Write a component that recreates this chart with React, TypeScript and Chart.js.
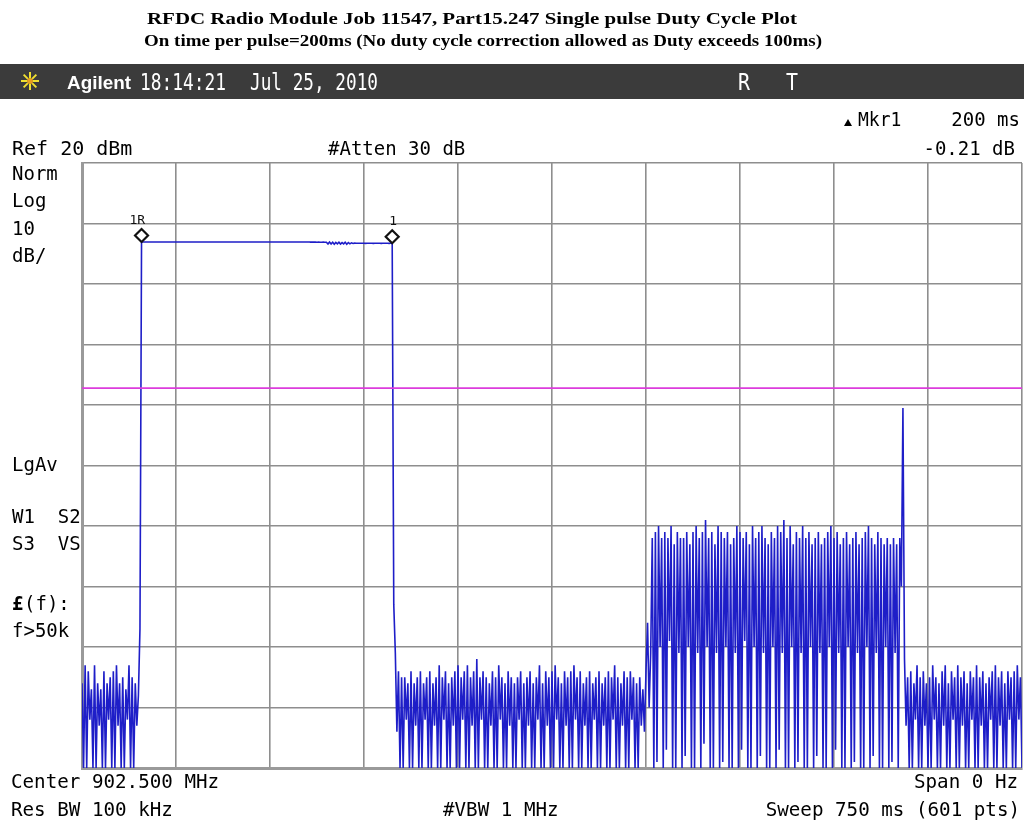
import React, { useEffect, useRef } from "react";
import { Chart, registerables } from "chart.js";

Chart.register(...registerables);

// ---- instrument settings ----
const sweepMs = 750;
const sweepPoints = 601;
const refLevelDbm = 20;
const dbPerDiv = 10;
const xDivMs = 75;
const displayLineDbm = -17.2;

// ---- trace (dBm), in sweep order ----
const preNoise = [
  -66, -80, -63, -80, -64, -72, -67, -80, -63, -80,
  -66, -73, -67, -80, -64, -80, -66, -72, -65, -80,
  -64, -80, -63, -73, -66, -80, -65, -80, -67, -72,
  -63, -80, -65, -80, -66, -73, -68, -57,
];
const pulseTop = [
  6.94, 6.95, 6.94, 6.94, 6.93, 6.94, 6.95, 6.94, 6.94, 6.93,
  6.94, 6.94, 6.95, 6.94, 6.93, 6.94, 6.94, 6.95, 6.94, 6.94,
  6.93, 6.94, 6.94, 6.95, 6.94, 6.94, 6.93, 6.94, 6.94, 6.95,
  6.94, 6.94, 6.93, 6.94, 6.95, 6.94, 6.94, 6.93, 6.94, 6.94,
  6.95, 6.94, 6.94, 6.93, 6.94, 6.94, 6.95, 6.94, 6.93, 6.94,
  6.94, 6.94, 6.95, 6.94, 6.93, 6.94, 6.94, 6.94, 6.95, 6.94,
  6.93, 6.94, 6.94, 6.95, 6.94, 6.94, 6.93, 6.94, 6.94, 6.94,
  6.95, 6.94, 6.93, 6.94, 6.94, 6.95, 6.94, 6.94, 6.93, 6.94,
  6.94, 6.95, 6.94, 6.94, 6.93, 6.94, 6.94, 6.95, 6.94, 6.93,
  6.94, 6.94, 6.95, 6.94, 6.94, 6.93, 6.94, 6.94, 6.95, 6.94,
  6.93, 6.94, 6.94, 6.94, 6.95, 6.94, 6.93, 6.94, 6.92, 6.93,
  6.92, 6.93, 6.91, 6.92, 6.90, 6.91, 6.92, 6.90, 6.89, 6.60,
  6.95, 6.62, 6.90, 6.58, 6.88, 6.65, 6.92, 6.60, 6.85, 6.63,
  6.90, 6.58, 6.86, 6.64, 6.80, 6.70, 6.75, 6.73, 6.74, 6.73,
  6.73, 6.74, 6.73, 6.72, 6.73, 6.74, 6.73, 6.73, 6.72, 6.73,
  6.74, 6.73, 6.73, 6.72, 6.73, 6.73, 6.74, 6.73, 6.72, 6.73,
  6.73,
];
const fallEdge = [-53, -61];
const midNoise = [
  -74, -64, -80, -65, -80, -65, -72, -66, -80, -64,
  -80, -66, -73, -65, -80, -64, -80, -66, -72, -65,
  -80, -64, -80, -66, -73, -65, -80, -63, -80, -65,
  -72, -64, -80, -66, -80, -65, -73, -64, -80, -63,
  -80, -65, -72, -64, -80, -63, -80, -65, -73, -64,
  -80, -62, -80, -65, -72, -64, -80, -65, -80, -66,
  -73, -64, -80, -65, -80, -63, -72, -65, -80, -66,
  -80, -64, -73, -65, -80, -66, -80, -65, -72, -64,
  -80, -66, -80, -65, -73, -64, -80, -66, -80, -65,
  -72, -63, -80, -66, -80, -64, -73, -65, -80, -64,
  -80, -63, -72, -65, -80, -66, -80, -64, -73, -65,
  -80, -64, -80, -63, -72, -65, -80, -64, -80, -66,
  -73, -65, -80, -64, -80, -66, -72, -65, -80, -64,
  -80, -66, -73, -65, -80, -64, -80, -65, -72, -63,
  -80, -65, -80, -66, -73, -64, -80, -65, -80, -64,
  -72, -65, -80, -66, -80, -65, -73, -67, -74,
];
const burstNoise = [
  -64, -56, -70, -61, -42, -80, -41, -79, -40, -60,
  -42, -80, -41, -77, -42, -59, -40, -80, -43, -80,
  -41, -61, -42, -80, -42, -78, -41, -60, -43, -80,
  -41, -80, -40, -61, -42, -80, -41, -76, -39, -60,
  -42, -80, -41, -80, -43, -61, -40, -80, -41, -79,
  -42, -60, -41, -80, -43, -80, -42, -61, -40, -80,
  -41, -77, -42, -59, -41, -80, -43, -80, -40, -60,
  -42, -80, -41, -78, -40, -61, -42, -80, -43, -80,
  -41, -60, -42, -80, -40, -77, -41, -61, -39, -80,
  -42, -80, -40, -60, -43, -80, -41, -79, -42, -61,
  -40, -80, -42, -80, -41, -60, -43, -80, -42, -78,
  -41, -61, -43, -80, -42, -80, -41, -60, -40, -80,
  -42, -77, -41, -61, -43, -80, -42, -80, -41, -60,
  -43, -80, -42, -79, -41, -61, -43, -80, -42, -80,
  -41, -60, -40, -80, -42, -78, -43, -61, -41, -80,
  -42, -80, -43, -60, -42, -80, -43, -79, -42, -61,
  -43, -80, -42, -50,
];
const spikePeak = [-20.5];
const postNoise = [
  -62, -73, -65, -80, -64, -80, -66, -72, -63, -80,
  -65, -80, -64, -73, -66, -80, -65, -80, -63, -72,
  -65, -80, -66, -80, -64, -73, -63, -80, -66, -80,
  -64, -72, -65, -80, -63, -80, -65, -73, -64, -80,
  -66, -80, -64, -72, -65, -80, -63, -80, -65, -73,
  -64, -80, -66, -80, -65, -72, -64, -80, -63, -80,
  -65, -73, -64, -80, -66, -80, -64, -72, -65, -80,
  -64, -80, -63, -72, -65, -80,
];

// ---- markers ----
const markerIndex = [38, 198];
const markerLabels = ["1R", "1"];

// ---- annotation texts ----
const titleLines = [
  "RFDC Radio Module Job 11547, Part15.247 Single pulse Duty Cycle Plot",
  "On time per pulse=200ms (No duty cycle correction allowed as Duty exceeds 100ms)",
];
const headerBrand = "Agilent";
const headerTime = "18:14:21";
const headerDate = "Jul 25, 2010";
const headerFlags = ["R", "T"];
const mkrLabel = "Mkr1";
const mkrDeltaTime = "200 ms";
const mkrDeltaLevel = "-0.21 dB";
const refText = "Ref 20 dBm";
const attenText = "#Atten 30 dB";
const leftLabels = ["Norm", "Log", "10", "dB/"];
const leftLabels2 = ["LgAv"];
const leftLabels3 = ["W1  S2", "S3  VS"];
const leftLabels4 = ["(f):", "f>50k"];
const bottomRow1 = ["Center 902.500 MHz", "Span 0 Hz"];
const bottomRow2 = ["Res BW 100 kHz", "#VBW 1 MHz", "Sweep 750 ms (601 pts)"];

const MONO = '"DejaVu Sans Mono", "Liberation Mono", monospace';

function txt(
  ctx: CanvasRenderingContext2D,
  s: string,
  x: number,
  y: number,
  font: string,
  color: string,
  align: "left" | "right" | "center" = "left",
  sx = 1
) {
  ctx.save();
  ctx.font = font;
  ctx.fillStyle = color;
  ctx.textBaseline = "alphabetic";
  ctx.textAlign = "left";
  const w = ctx.measureText(s).width * sx;
  const left = align === "left" ? x : align === "right" ? x - w : x - w / 2;
  ctx.translate(left, y);
  ctx.scale(sx, 1);
  ctx.fillText(s, 0, 0);
  ctx.restore();
}

function txtFit(
  ctx: CanvasRenderingContext2D,
  s: string,
  x0: number,
  x1: number,
  y: number,
  font: string,
  color: string
) {
  ctx.save();
  ctx.font = font;
  const w = ctx.measureText(s).width;
  ctx.restore();
  txt(ctx, s, x0, y, font, color, "left", (x1 - x0) / w);
}

const overlay = {
  id: "overlay",
  beforeDraw(chart: any) {
    const ctx: CanvasRenderingContext2D = chart.ctx;
    ctx.save();
    ctx.fillStyle = "#ffffff";
    ctx.fillRect(0, 0, chart.width, chart.height);
    ctx.fillStyle = "#3b3b3b";
    ctx.fillRect(0, 64, chart.width, 35);
    ctx.restore();
  },
  afterDatasetsDraw(chart: any) {
    const ctx: CanvasRenderingContext2D = chart.ctx;
    const xs = chart.scales.x;
    const ys = chart.scales.y;
    const pts = chart.data.datasets[0].data;
    markerIndex.forEach((idx, k) => {
      const p = pts[idx];
      const px = xs.getPixelForValue(p.x);
      const py = ys.getPixelForValue(p.y);
      const h = 6.5;
      const cy = py - h;
      ctx.save();
      ctx.beginPath();
      ctx.moveTo(px, cy - h);
      ctx.lineTo(px + h, cy);
      ctx.lineTo(px, cy + h);
      ctx.lineTo(px - h, cy);
      ctx.closePath();
      ctx.fillStyle = "#ffffff";
      ctx.fill();
      ctx.lineWidth = 2.2;
      ctx.strokeStyle = "#111111";
      ctx.stroke();
      ctx.restore();
      txt(ctx, markerLabels[k], px - (k === 0 ? 12 : 3), cy - 12, "13px " + MONO, "#111111", "left");
    });
  },
  afterDraw(chart: any) {
    const ctx: CanvasRenderingContext2D = chart.ctx;
    // titles
    txtFit(ctx, titleLines[0], 147, 797, 24, 'bold 17px "Liberation Serif", serif', "#000");
    txtFit(ctx, titleLines[1], 144, 822, 46, 'bold 17px "Liberation Serif", serif', "#000");

    // header star
    ctx.save();
    ctx.translate(30, 81);
    ctx.strokeStyle = "#f0e030";
    ctx.lineWidth = 2;
    for (let a = 0; a < 8; a++) {
      const ang = (a * Math.PI) / 4;
      ctx.beginPath();
      ctx.moveTo(Math.cos(ang) * 3, Math.sin(ang) * 3);
      ctx.lineTo(Math.cos(ang) * 9, Math.sin(ang) * 9);
      ctx.stroke();
    }
    ctx.fillStyle = "#e8a020";
    ctx.beginPath();
    ctx.arc(0, 0, 3, 0, Math.PI * 2);
    ctx.fill();
    ctx.restore();

    txtFit(ctx, headerBrand, 67, 131, 89, 'bold 19px "Liberation Sans", Arial, sans-serif', "#fff");
    txtFit(ctx, headerTime, 140, 226, 90, "23px " + MONO, "#fff");
    txtFit(ctx, headerDate, 250, 378, 90, "23px " + MONO, "#fff");
    txtFit(ctx, headerFlags[0], 738, 750, 90, "23px " + MONO, "#fff");
    txtFit(ctx, headerFlags[1], 786, 798, 90, "23px " + MONO, "#fff");

    // marker readout
    ctx.save();
    ctx.fillStyle = "#000";
    ctx.beginPath();
    ctx.moveTo(844, 126);
    ctx.lineTo(852, 126);
    ctx.lineTo(848, 119);
    ctx.closePath();
    ctx.fill();
    ctx.restore();
    txt(ctx, mkrLabel, 858, 126, "20px " + MONO, "#000", "left", 0.9);
    txt(ctx, mkrDeltaTime, 1020, 126, "20px " + MONO, "#000", "right", 0.95);
    txt(ctx, refText, 12, 155, "20px " + MONO, "#000", "left");
    txt(ctx, attenText, 328, 155, "20px " + MONO, "#000", "left", 0.95);
    txt(ctx, mkrDeltaLevel, 1015, 155, "20px " + MONO, "#000", "right", 0.95);

    // left annotation column
    const lb1 = [180, 207, 235, 262];
    leftLabels.forEach((s, i) => txt(ctx, s, 12, lb1[i], "20px " + MONO, "#000", "left", 0.95));
    txt(ctx, leftLabels2[0], 12, 471, "20px " + MONO, "#000", "left", 0.95);
    txt(ctx, leftLabels3[0], 12, 523, "20px " + MONO, "#000", "left", 0.95);
    txt(ctx, leftLabels3[1], 12, 550, "20px " + MONO, "#000", "left", 0.95);
    txt(ctx, "£", 12, 610, "bold 20px " + MONO, "#000", "left", 0.95);
    txt(ctx, leftLabels4[0], 24, 610, "20px " + MONO, "#000", "left", 0.95);
    txt(ctx, leftLabels4[1], 12, 637, "20px " + MONO, "#000", "left", 0.95);

    // bottom rows
    txt(ctx, bottomRow1[0], 11, 788, "20px " + MONO, "#000", "left", 0.96);
    txt(ctx, bottomRow1[1], 1018, 788, "20px " + MONO, "#000", "right", 0.96);
    txt(ctx, bottomRow2[0], 11, 816, "20px " + MONO, "#000", "left", 0.96);
    txt(ctx, bottomRow2[1], 443, 816, "20px " + MONO, "#000", "left", 0.96);
    txt(ctx, bottomRow2[2], 1020, 816, "20px " + MONO, "#000", "right", 0.96);
  },
};

export default function App() {
  const ref = useRef<HTMLCanvasElement | null>(null);
  useEffect(() => {
    if (!ref.current) return;
    const trace = [
      ...preNoise,
      ...pulseTop,
      ...fallEdge,
      ...midNoise,
      ...burstNoise,
      ...spikePeak,
      ...postNoise,
    ];
    const msPerPoint = sweepMs / (sweepPoints - 1);
    const traceData = trace.map((v, i) => ({ x: i * msPerPoint, y: v }));
    const lineData = [
      { x: 0, y: displayLineDbm },
      { x: sweepMs, y: displayLineDbm },
    ];
    const gridColor = "#8e8e8e";
    const chart = new Chart(ref.current, {
      type: "line",
      data: {
        datasets: [
          {
            data: traceData,
            borderColor: "#1e1ec8",
            borderWidth: 1.6,
            pointRadius: 0,
            tension: 0,
            order: 2,
          } as any,
          {
            data: lineData,
            borderColor: "#dc3cdc",
            borderWidth: 1.8,
            pointRadius: 0,
            tension: 0,
            order: 1,
          } as any,
        ],
      },
      options: {
        responsive: false,
        animation: false,
        devicePixelRatio: 1,
        layout: { padding: { left: 82, right: 2, top: 163, bottom: 57 } },
        plugins: {
          legend: { display: false },
          tooltip: { enabled: false },
          title: { display: false },
        },
        scales: {
          x: {
            type: "linear",
            min: 0,
            max: sweepMs,
            ticks: { display: false, stepSize: xDivMs },
            grid: { color: gridColor, lineWidth: 1.6, drawTicks: false },
            border: { display: true, color: "#9a9a9a", width: 3 },
          },
          y: {
            type: "linear",
            min: refLevelDbm - 10 * dbPerDiv,
            max: refLevelDbm,
            ticks: { display: false, stepSize: dbPerDiv },
            grid: { color: gridColor, lineWidth: 1.6, drawTicks: false },
            border: { display: true, color: "#9a9a9a", width: 3 },
          },
        },
      } as any,
      plugins: [overlay as any],
    });
    return () => chart.destroy();
  }, []);
  return (
    <div style={{ position: "absolute", left: 0, top: 0, width: 1024, height: 825 }}>
      <canvas ref={ref} width={1024} height={825} style={{ display: "block" }} />
    </div>
  );
}
